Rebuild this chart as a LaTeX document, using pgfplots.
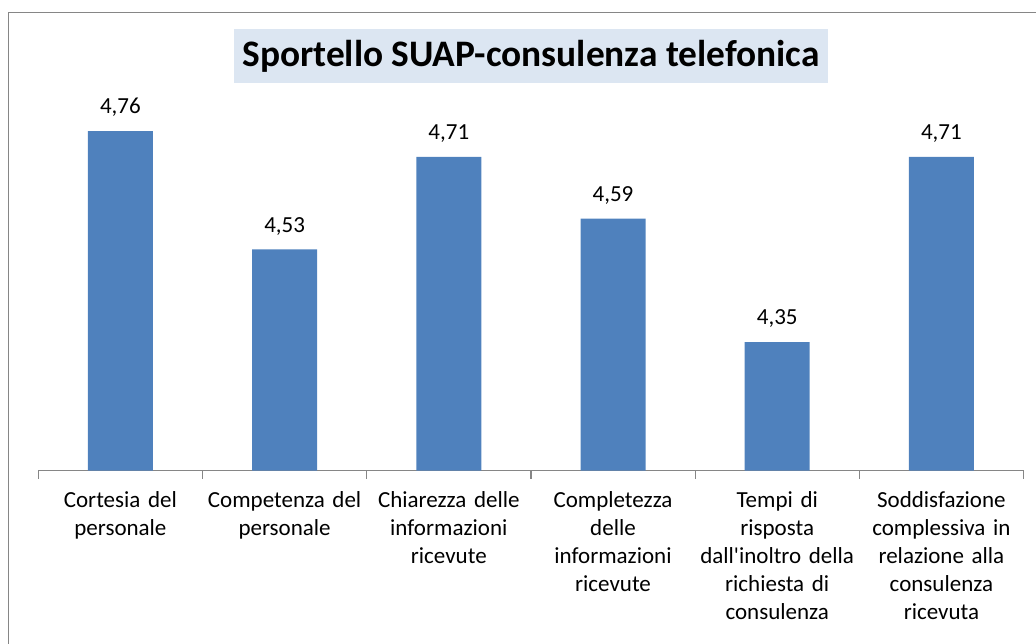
\documentclass[border=0pt]{standalone}
\usepackage{fontspec}
\setmainfont{Carlito}
\usepackage{pgfplots}
\pgfplotsset{compat=1.18}
\definecolor{barblue}{HTML}{4F81BD}
\definecolor{titlebg}{HTML}{DCE6F2}
\definecolor{framegray}{HTML}{868686}
\begin{document}
\begin{tikzpicture}
\useasboundingbox (0,0) rectangle (518pt,321.5pt);
% chart frame (cut off at right and bottom)
\draw[framegray, line width=0.6pt] (4.15pt,-2pt) -- (4.15pt,315.35pt) -- (522pt,315.35pt);
% title box
\node[fill=titlebg, minimum width=297pt, minimum height=27pt, inner sep=0pt,
      font=\fontsize{18.7}{22}\selectfont\bfseries] at (265.5pt,293.5pt)
      {Sportello SUAP-consulenza telefonica};
\begin{axis}[
    at={(19.15pt,86.15pt)}, anchor=south west,
    width=492.6pt, height=180.1pt, scale only axis,
    xmin=-0.5, xmax=5.5, ymin=4.1, ymax=4.8,
    axis y line=none, axis x line*=bottom,
    x axis line style={framegray, line width=0.6pt},
    xtick={0,...,5},
    xticklabels={
        {Cortesia del\\personale},
        {Competenza del\\personale},
        {Chiarezza delle\\informazioni\\ricevute},
        {Completezza\\delle\\informazioni\\ricevute},
        {Tempi di\\risposta\\dall\textquotesingle inoltro della\\richiesta di\\consulenza},
        {Soddisfazione\\complessiva in\\relazione alla\\consulenza\\ricevuta}},
    xticklabel style={text width=86pt, align=center, inner sep=0pt, yshift=-10pt,
        font=\fontsize{11.5}{14}\selectfont},
    major tick length=0pt,
    minor xtick={-0.5,0.5,...,5.5},
    minor tick length=4pt, tick align=outside,
    minor tick style={framegray, line width=0.6pt},
    ybar, bar width=32.5pt,
    clip=false,
    nodes near coords, point meta=y,
    every node near coord/.append style={font=\fontsize{11.5}{14}\selectfont,
        inner sep=0pt, anchor=south, yshift=7pt},
    /pgf/number format/.cd, use comma, fixed, fixed zerofill, precision=2,
    assume math mode=true,
]
\addplot[fill=barblue, draw=none] coordinates {
    (0,4.76) (1,4.53) (2,4.71) (3,4.59) (4,4.35) (5,4.71)
};
\end{axis}
\end{tikzpicture}
\end{document}
